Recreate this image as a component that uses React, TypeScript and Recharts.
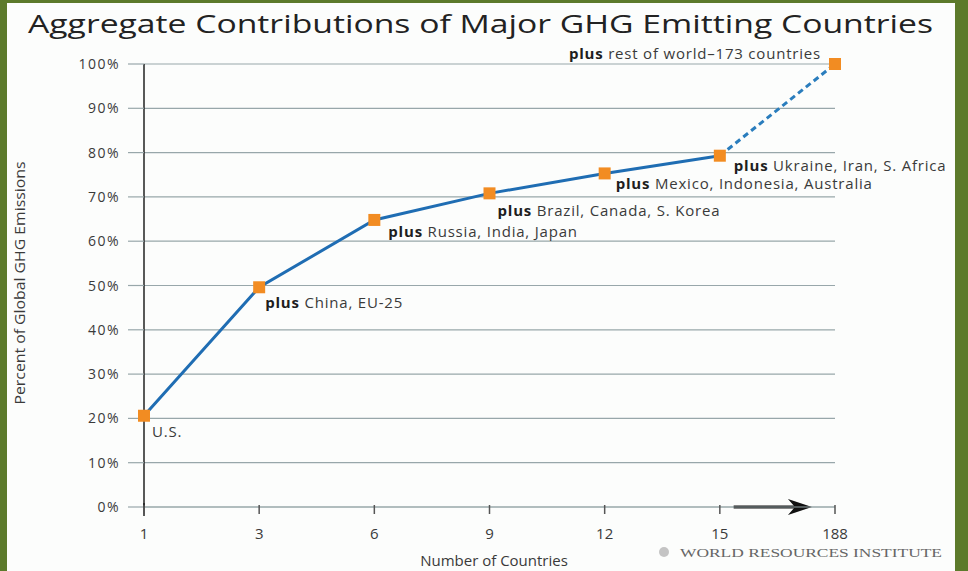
import React from 'react';
import { LineChart, Line, XAxis, YAxis, CartesianGrid, LabelList, ReferenceLine } from 'recharts';

// ---- data ----
const categories = ['1', '3', '6', '9', '12', '15', '188'];
const cumulativeShare = [20.6, 49.6, 64.8, 70.8, 75.3, 79.3, 100];
const groupLabels = [
  'U.S.',
  'China, EU-25',
  'Russia, India, Japan',
  'Brazil, Canada, S. Korea',
  'Mexico, Indonesia, Australia',
  'Ukraine, Iran, S. Africa',
  'rest of world\u2013173 countries',
];
const hasPlusPrefix = [false, true, true, true, true, true, true];
const yTicks = [0, 10, 20, 30, 40, 50, 60, 70, 80, 90, 100];
const solidCount = 6; // first six points joined with a solid line

const data = categories.map((c, i) => ({
  n: c,
  solid: i < solidCount ? cumulativeShare[i] : null,
  dashed: i >= solidCount - 1 ? cumulativeShare[i] : null,
  label: groupLabels[i],
}));

// ---- styling ----
const W = 968;
const H = 571;
const GREEN = '#5c7a2b';
const BLUE = '#1f6db3';
const ORANGE = '#f28c22';
const GRID = '#98a7aa';
const FONT = '"Open Sans", "DejaVu Sans", sans-serif';

// label placement relative to each point (dx, dy to baseline, anchor)
const labelPlacement = [
  { dx: 8, dy: 21, anchor: 'start' },
  { dx: 6, dy: 21, anchor: 'start' },
  { dx: 14, dy: 17, anchor: 'start' },
  { dx: 8, dy: 23, anchor: 'start' },
  { dx: 11, dy: 16, anchor: 'start' },
  { dx: 14, dy: 15, anchor: 'start' },
  { dx: -14, dy: -5, anchor: 'end' },
];

const SquareDot = (props: any) => {
  const { cx, cy, index, dataKey } = props;
  if (cx == null || cy == null || props.value == null) return <g key={`d-${dataKey}-${index}`} />;
  if (dataKey === 'dashed' && index !== categories.length - 1) return <g key={`d-${dataKey}-${index}`} />;
  const s = 12;
  return <rect key={`d-${dataKey}-${index}`} x={cx - s / 2} y={cy - s / 2} width={s} height={s} fill={ORANGE} />;
};

const PointLabel = (props: any) => {
  const { x, y, index, value } = props;
  if (x == null || y == null || value == null) return null;
  const p = labelPlacement[index];
  const text = groupLabels[index];
  return (
    <text
      x={x + p.dx}
      y={y + p.dy}
      textAnchor={p.anchor}
      fontFamily={FONT}
      fontSize={15}
      letterSpacing={0.8}
      fill="#3a3a3a"
    >
      {hasPlusPrefix[index] ? (
        <tspan fontWeight="bold" fill="#1e1e1e">plus </tspan>
      ) : null}
      <tspan>{text}</tspan>
    </text>
  );
};

const ArrowShape = (props: any) => {
  const { x1, y1, x2 } = props;
  if (x1 == null || x2 == null) return null;
  const len = x2 - x1;
  const sx = x1 + len * 0.12;
  const ex = x1 + len * 0.8;
  const y = Math.round(y1);
  return (
    <g>
      <line x1={sx} y1={y} x2={ex - 14} y2={y} stroke="#111" strokeWidth={3} />
      <polygon points={`${ex},${y} ${ex - 24},${y - 8} ${ex - 17},${y} ${ex - 24},${y + 8}`} fill="#111" />
    </g>
  );
};

const YTick = (props: any) => {
  const { x, y, payload } = props;
  return (
    <text x={x} y={y} dy={5} textAnchor="end" fontFamily={FONT} fontSize={14} fill="#3a3a3a" letterSpacing={1.5}>
      {`${payload.value}%`}
    </text>
  );
};

const XTick = (props: any) => {
  const { x, y, payload, index } = props;
  return (
    <g>
      {index === 0 ? <line x1={x} y1={y - 12} x2={x} y2={y + 1} stroke="#222" strokeWidth={1.5} /> : null}
      <line x1={x} y1={y - 10} x2={x} y2={y - 1} stroke="#555" strokeWidth={1.5} />
      <text x={x} y={y} dy={24} textAnchor="middle" fontFamily={FONT} fontSize={15} fill="#3a3a3a">
        {payload.value}
      </text>
    </g>
  );
};

export default function App() {
  return (
    <div style={{ position: 'absolute', left: 0, top: 0, width: W, height: H, background: GREEN, overflow: 'hidden' }}>
      <div style={{ position: 'absolute', left: 7, top: 3, width: 948, height: H - 3, background: '#fcfdfc' }} />
      <div style={{ position: 'absolute', left: 0, top: 0 }}>
        <LineChart
          width={W}
          height={H}
          data={data}
          margin={{ top: 64, right: 133, bottom: 34, left: 84 }}
        >
          <CartesianGrid horizontal vertical={false} stroke={GRID} strokeWidth={1.2} />
          <XAxis
            dataKey="n"
            type="category"
            height={30}
            axisLine={{ stroke: GRID, strokeWidth: 1.2 }}
            tickLine={false}
            tick={<XTick />}
            interval={0}
          />
          <YAxis
            type="number"
            domain={[0, 100]}
            ticks={yTicks}
            width={60}
            axisLine={{ stroke: '#222', strokeWidth: 1.5 }}
            tickLine={{ stroke: GRID, strokeWidth: 1.2 }}
            tickSize={16}
            tick={<YTick />}
            tickMargin={8}
            interval={0}
          />
          <ReferenceLine
            segment={[{ x: '15', y: 0 }, { x: '188', y: 0 }]}
            shape={<ArrowShape />}
            ifOverflow="visible"
          />
          <Line
            dataKey="dashed"
            type="linear"
            stroke="#2a7dbd"
            strokeWidth={3}
            strokeDasharray="6 4"
            dot={<SquareDot />}
            activeDot={false}
            isAnimationActive={false}
            connectNulls={false}
          >
            <LabelList dataKey="dashed" content={(p: any) => (p.index === categories.length - 1 ? <PointLabel {...p} /> : null)} />
          </Line>
          <Line
            dataKey="solid"
            type="linear"
            stroke={BLUE}
            strokeWidth={3}
            dot={<SquareDot />}
            activeDot={false}
            isAnimationActive={false}
            connectNulls={false}
          >
            <LabelList dataKey="solid" content={(p: any) => <PointLabel {...p} />} />
          </Line>
        </LineChart>
      </div>
      <svg width={W} height={H} style={{ position: 'absolute', left: 0, top: 0, pointerEvents: 'none' }}>
        <text x={28} y={33} fontFamily={FONT} fontSize={25} fill="#222" textLength={905} lengthAdjust="spacingAndGlyphs">
          Aggregate Contributions of Major GHG Emitting Countries
        </text>
        <text
          transform="translate(25,283) rotate(-90)"
          textAnchor="middle"
          fontFamily={FONT}
          fontSize={14}
          fill="#3a3a3a"
          textLength={243}
          lengthAdjust="spacingAndGlyphs"
        >
          Percent of Global GHG Emissions
        </text>
        <text x={494} y={566} textAnchor="middle" fontFamily={FONT} fontSize={15} fill="#3a3a3a">
          Number of Countries
        </text>
        <circle cx={664} cy={552} r={5} fill="#c4c4c4" />
        <text x={680} y={557} fontFamily='"Liberation Serif", "DejaVu Serif", serif' fontSize={13} fill="#666" textLength={262} lengthAdjust="spacingAndGlyphs">
          WORLD RESOURCES INSTITUTE
        </text>
      </svg>
    </div>
  );
}
